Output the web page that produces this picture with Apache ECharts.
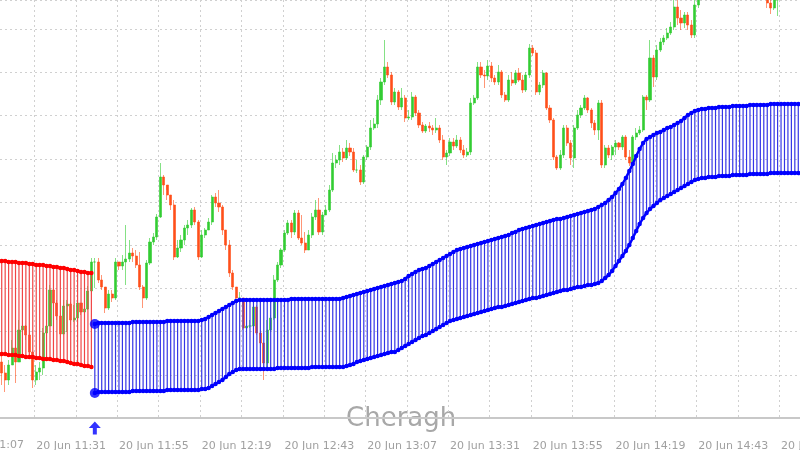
<!DOCTYPE html>
<html>
<head>
<meta charset="utf-8">
<script src="https://cdn.jsdelivr.net/npm/echarts@6/dist/echarts.min.js"></script>
<style>
  html, body { margin: 0; padding: 0; background: #fff; }
  #chart { width: 800px; height: 450px; }
</style>
</head>
<body>
<div id="chart"></div>
<script>
// one candle per minute, first candle 20 Jun 11:21
const startMinute = 11 * 60 + 21;
const times = [];
for (let i = 0; i < 232; i++) {
    const m = startMinute + i;
    times.push('20 Jun ' + String(Math.floor(m / 60)).padStart(2, '0') + ':' + String(m % 60).padStart(2, '0'));
}

const closes = [
    45, 38, 53, 70, 56, 88, 92, 83, 66, 38,            // 0
    46, 50, 85, 92, 128, 115, 102, 84, 112, 114,       // 10
    98, 100, 115, 106, 109, 127, 156, 156, 138, 131,   // 20
    110, 124, 120, 156, 152, 156, 159, 165, 162, 153,  // 30
    131, 120, 155, 176, 181, 201, 241, 233, 223, 213,  // 40
    161, 170, 178, 190, 193, 208, 196, 161, 183, 188,  // 50
    196, 221, 215, 211, 188, 173, 145, 131, 120, 120,  // 60
    90, 92, 92, 111, 85, 75, 55, 88, 100, 138,         // 70
    153, 168, 185, 195, 186, 205, 180, 175, 168, 183,  // 80
    201, 208, 186, 203, 208, 228, 255, 258, 266, 260,  // 90
    270, 266, 248, 248, 236, 261, 271, 290, 294, 318,  // 100
    336, 351, 343, 316, 326, 311, 320, 300, 301, 321,  // 110
    305, 293, 287, 292, 290, 288, 290, 278, 261, 265,  // 120
    276, 272, 278, 268, 263, 266, 315, 320, 351, 343,  // 130
    342, 352, 340, 336, 346, 323, 318, 338, 335, 345,  // 140
    338, 328, 343, 370, 365, 326, 333, 345, 310, 298,  // 150
    261, 250, 263, 290, 275, 260, 290, 303, 310, 320,  // 160
    308, 295, 288, 315, 253, 270, 263, 271, 275, 271,  // 170
    281, 261, 255, 281, 285, 288, 321, 318, 360, 341,  // 180
    368, 376, 380, 385, 391, 411, 400, 395, 403, 393,  // 190
    383, 413, 426, 438, 448, 443, 453, 458, 450, 456,  // 200
    463, 458, 453, 460, 448, 443, 450, 446, 438, 433,  // 210
    428, 423, 415, 410, 418, 423, 433, 438, 436, 443,  // 220
    448, 446                                           // 230
];
const highs = [
    63, 53, 58, 78, 68, 98, 96, 93, 88, 63,
    53, 56, 90, 98, 133, 130, 118, 108, 118, 118,
    116, 113, 118, 110, 112, 132, 160, 160, 160, 143,
    128, 128, 128, 160, 156, 163, 193, 178, 170, 168,
    166, 133, 158, 180, 185, 204, 255, 243, 228, 220,
    218, 178, 183, 193, 198, 210, 211, 198, 188, 190,
    200, 223, 225, 228, 213, 188, 178, 148, 131, 126,
    113, 100, 98, 118, 113, 88, 73, 98, 103, 143,
    156, 170, 188, 198, 198, 208, 208, 203, 186, 188,
    205, 218, 220, 206, 213, 233, 265, 263, 273, 270,
    278, 275, 270, 258, 253, 263, 273, 298, 300, 323,
    340, 378, 356, 346, 330, 328, 330, 323, 308, 326,
    323, 308, 296, 294, 296, 293, 300, 293, 283, 268,
    280, 280, 283, 281, 273, 270, 320, 323, 356, 356,
    348, 358, 356, 343, 353, 348, 326, 343, 346, 348,
    350, 343, 346, 374, 373, 368, 336, 348, 346, 313,
    300, 263, 268, 293, 293, 278, 293, 308, 313, 323,
    321, 310, 298, 318, 318, 273, 273, 273, 278, 276,
    283, 283, 268, 283, 290, 292, 323, 323, 378, 363,
    373, 380, 383, 390, 396, 418, 421, 408, 406, 406,
    398, 418, 433, 445, 455, 455, 460, 465, 463, 462,
    470, 468, 462, 466, 464, 452, 455, 454, 450, 442,
    437, 432, 425, 423, 424, 428, 438, 443, 442, 448,
    453, 452
];
const lows = [
    33, 26, 33, 53, 35, 68, 83, 78, 61, 30,
    33, 38, 43, 83, 93, 110, 98, 80, 90, 86,
    93, 96, 104, 103, 104, 108, 125, 130, 135, 128,
    105, 108, 116, 118, 148, 148, 133, 156, 156, 150,
    128, 110, 118, 153, 173, 178, 200, 223, 218, 208,
    158, 160, 166, 173, 183, 190, 193, 158, 160, 180,
    188, 193, 211, 206, 183, 168, 141, 128, 118, 115,
    88, 88, 90, 93, 83, 73, 38, 50, 86, 98,
    136, 150, 166, 183, 180, 183, 178, 173, 165, 168,
    180, 198, 183, 183, 203, 206, 226, 250, 253, 256,
    258, 262, 246, 245, 233, 234, 258, 268, 288, 290,
    313, 333, 340, 313, 313, 308, 308, 296, 298, 298,
    302, 290, 285, 285, 286, 283, 285, 275, 258, 253,
    262, 268, 270, 265, 260, 261, 263, 313, 318, 340,
    330, 338, 336, 333, 333, 320, 316, 316, 332, 333,
    336, 325, 326, 340, 362, 323, 323, 330, 308, 295,
    258, 248, 248, 260, 272, 253, 250, 288, 300, 308,
    305, 290, 283, 278, 250, 250, 260, 258, 263, 268,
    268, 258, 252, 253, 278, 283, 286, 308, 316, 331,
    338, 366, 373, 378, 383, 388, 393, 388, 390, 388,
    380, 380, 410, 420, 433, 438, 438, 448, 445, 445,
    451, 453, 448, 448, 443, 438, 438, 441, 433, 428,
    423, 419, 410, 404, 408, 402, 420, 430, 432, 434,
    440, 441
];

// red envelope, minutes 0..26
const redUpper = [157, 157, 156, 156, 156, 155, 155, 155, 154, 154, 153, 153, 153, 152, 152, 151, 151, 150, 150, 149, 148, 148, 147, 146, 146, 145, 145];
const redLower = [64, 64, 63, 63, 63, 62, 62, 61, 61, 61, 60, 60, 59, 59, 59, 58, 58, 57, 57, 56, 55, 54, 54, 53, 52, 52, 51];

// blue envelope, minutes 27..231
const blueStart = 27;
const blueUpper = [
    94, 95, 95, 95, 95, 95, 95, 95, 95, 95,            // 27
    95, 96, 96, 96, 96, 96, 96, 96, 96, 96,            // 37
    96, 97, 97, 97, 97, 97, 97, 97, 97, 97,            // 47
    97, 98, 99, 101, 103, 105, 107, 109, 111, 113,     // 57
    115, 117, 118, 118, 118, 118, 118, 118, 118, 118,  // 67
    118, 118, 118, 118, 118, 118, 118, 119, 119, 119,  // 77
    119, 119, 119, 119, 119, 119, 119, 119, 119, 119,  // 87
    119, 119, 120, 121, 122, 123, 124, 125, 126, 127,  // 97
    128, 129, 130, 131, 132, 133, 134, 135, 136, 137,  // 107
    139, 142, 144, 146, 148, 149, 150, 152, 154, 156,  // 117
    158, 160, 162, 164, 166, 168, 169, 170, 171, 172,  // 127
    173, 174, 175, 176, 177, 178, 179, 180, 181, 182,  // 137
    183, 185, 186, 188, 189, 190, 191, 192, 193, 194,  // 147
    195, 196, 197, 198, 199, 199, 200, 201, 202, 203,  // 157
    204, 205, 206, 207, 208, 209, 211, 213, 215, 218,  // 167
    221, 225, 229, 234, 240, 247, 254, 262, 269, 275,  // 177
    279, 281, 283, 285, 286, 288, 290, 291, 293, 295,  // 187
    297, 300, 303, 305, 307, 308, 309, 309, 310, 310,  // 197
    310, 311, 311, 311, 311, 312, 312, 312, 312, 312,  // 207
    313, 313, 313, 313, 313, 313, 314, 314, 314, 314,  // 217
    314, 314, 314, 314, 314                            // 227
];
const blueLower = [
    25, 26, 26, 26, 26, 26, 26, 26, 26, 26,            // 27
    26, 27, 27, 27, 27, 27, 27, 27, 27, 27,            // 37
    27, 28, 28, 28, 28, 28, 28, 28, 28, 28,            // 47
    28, 29, 29, 30, 32, 34, 36, 38, 41, 44,            // 57
    46, 48, 49, 49, 49, 49, 49, 49, 49, 49,            // 67
    49, 49, 49, 50, 50, 50, 50, 50, 50, 50,            // 77
    50, 50, 50, 51, 51, 51, 51, 51, 51, 51,            // 87
    51, 51, 51, 52, 53, 54, 56, 57, 58, 59,            // 97
    60, 61, 62, 63, 64, 65, 66, 66, 68, 70,            // 107
    72, 74, 76, 78, 80, 82, 83, 85, 87, 89,            // 117
    91, 93, 95, 97, 98, 99, 100, 101, 102, 103,        // 127
    104, 105, 106, 107, 108, 109, 110, 111, 111, 112,  // 137
    113, 114, 115, 116, 117, 118, 119, 120, 120, 121,  // 147
    122, 123, 124, 125, 126, 127, 128, 128, 129, 130,  // 157
    131, 131, 132, 133, 133, 134, 135, 137, 140, 143,  // 167
    147, 152, 157, 162, 167, 173, 180, 187, 194, 200,  // 177
    205, 209, 212, 215, 218, 220, 222, 224, 226, 228,  // 187
    230, 232, 234, 236, 238, 239, 240, 240, 241, 241,  // 197
    241, 242, 242, 242, 242, 243, 243, 243, 243, 243,  // 207
    244, 244, 244, 244, 244, 244, 245, 245, 245, 245,  // 217
    245, 245, 245, 245, 245                            // 227
];

const chart = echarts.init(document.getElementById('chart'));

const candleData = closes.map((c, i) => {
    const o = i === 0 ? 56 : closes[i - 1];
    return [o, c, lows[i], highs[i]];
});
const redBand = redUpper.map((u, i) => [i, redLower[i], u]);
const blueBand = blueUpper.map((u, i) => [i + blueStart, blueLower[i], u]);
const redUp = redUpper.map((v, i) => [i, v]);
const redLo = redLower.map((v, i) => [i, v]);
const blueUp = blueUpper.map((v, i) => [i + blueStart, v]);
const blueLo = blueLower.map((v, i) => [i + blueStart, v]);

function bandRender(color) {
    return function (params, api) {
        const a = api.coord([api.value(0), api.value(1)]);
        const b = api.coord([api.value(0), api.value(2)]);
        return {
            type: 'line',
            shape: { x1: a[0], y1: a[1], x2: b[0], y2: b[1] },
            style: { stroke: color, lineWidth: 1.2 },
        };
    };
}

function edge(data, color) {
    return {
        type: 'line', data: data, symbol: 'circle', symbolSize: 4.5, showSymbol: true, showAllSymbol: true,
        lineStyle: { color: color, width: 2.5 }, itemStyle: { color: color },
        z: 4, silent: true,
    };
}

const labelFont = { color: '#a0a0a0', fontSize: 11, fontFamily: 'DejaVu Sans' };

chart.setOption({
    animation: false,
    backgroundColor: '#fff',
    grid: { left: 0, right: 0, top: 0, bottom: 32, outerBoundsMode: 'none', containLabel: false },
    xAxis: {
        type: 'category', data: times, boundaryGap: true, offset: 19,
        axisLine: { lineStyle: { color: '#c8c8c8', width: 2 } },
        axisTick: { show: false },
        axisLabel: Object.assign({
            interval: (i) => (i - 10) % 24 === 0, align: 'left', margin: 4, hideOverlap: false,
        }, labelFont),
        splitLine: {
            show: true, interval: (i) => (i - 10) % 12 === 0,
            lineStyle: { color: '#d0d0d0', type: [2, 3] },
        },
    },
    yAxis: {
        type: 'value', min: 0, max: 418, interval: 43.2,
        axisLine: { show: false }, axisTick: { show: false }, axisLabel: { show: false },
        splitLine: { lineStyle: { color: '#d0d0d0', type: [2, 3] } },
    },
    graphic: [
        { type: 'text', left: 346, top: 406, style: { text: 'Cheragh', fill: '#a8a8a8', font: '26px "DejaVu Sans"' }, z: 0 },
        { type: 'text', left: -46, top: 440, style: { text: '20 Jun 11:07', font: '11px "DejaVu Sans"', fill: '#a0a0a0' } },
    ],
    series: [
        {
            type: 'candlestick', data: candleData, barWidth: 2.6, z: 2,
            itemStyle: { color: '#33cc33', color0: '#ff4f1a', borderColor: '#33cc33', borderColor0: '#ff4f1a', borderWidth: 0.6 },
        },
        { type: 'custom', data: redBand, renderItem: bandRender('#f04545'), z: 3, silent: true },
        { type: 'custom', data: blueBand, renderItem: bandRender('#3535e6'), z: 3, silent: true },
        edge(redUp, '#ff0000'),
        edge(redLo, '#ff0000'),
        edge(blueUp, '#0000ff'),
        edge(blueLo, '#0000ff'),
        {
            type: 'scatter', data: [[blueStart, blueUpper[0]], [blueStart, blueLower[0]]],
            symbolSize: 10, itemStyle: { color: '#0000ff' }, z: 5, silent: true,
        },
        {
            type: 'scatter', data: [[blueStart, -10]], clip: false,
            symbol: 'path://M6,0 L12,7 L8,7 L8,14 L4,14 L4,7 L0,7 Z', symbolSize: [12, 13],
            itemStyle: { color: '#0000ff' }, z: 5, silent: true,
        },
    ],
});
</script>
</body>
</html>
